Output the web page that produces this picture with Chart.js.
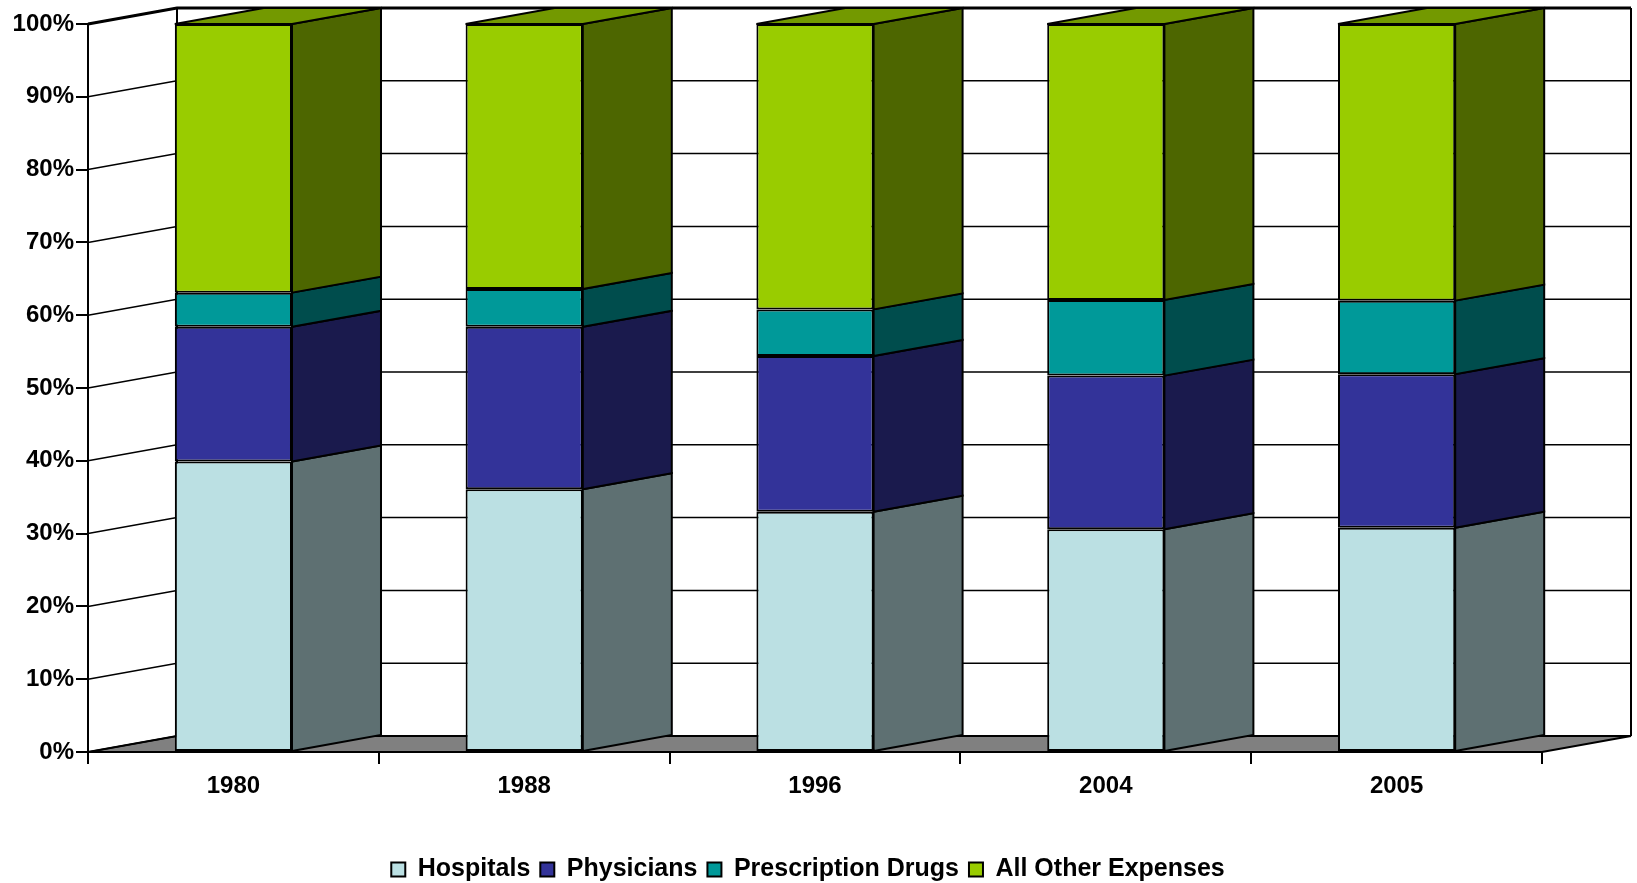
<!DOCTYPE html>
<html>
<head>
<meta charset="utf-8">
<script src="https://cdn.jsdelivr.net/npm/chart.js@4.4.1/dist/chart.umd.min.js"></script>
<style>
html, body { margin: 0; padding: 0; background: #fff; }
</style>
</head>
<body>
<canvas id="chart" width="1637" height="883"></canvas>
<script>
// shares of spending, percent of total
var years = ['1980', '1988', '1996', '2004', '2005'];
var hospitals = [39.9, 36.1, 33.0, 30.6, 30.8];
var physicians = [18.5, 22.3, 21.4, 21.1, 21.1];
var prescriptionDrugs = [4.7, 5.2, 6.4, 10.4, 10.1];
var otherExpenses = [36.9, 36.4, 39.2, 37.9, 38.0];
var yTickStep = 10;

// depth of the fake 3d box, in pixels
var DX = 89, DY = -16;

Chart.defaults.font.family = 'Liberation Sans';
Chart.defaults.font.weight = 'bold';
Chart.defaults.color = '#000';

function makeSet(label, values, front, side) {
  return {
    label: label,
    data: values,
    backgroundColor: front,
    sideColor: side,
    borderColor: '#000',
    borderWidth: 2,
    borderSkipped: false,
    barPercentage: 0.403,
    categoryPercentage: 1
  };
}

var box3d = {
  id: 'box3d',
  beforeDatasetsDraw: function(chart) {
    var ctx = chart.ctx, a = chart.chartArea, y = chart.scales.y;
    ctx.save();
    ctx.strokeStyle = '#000';
    // floor
    ctx.beginPath();
    ctx.moveTo(a.left, a.bottom);
    ctx.lineTo(a.right, a.bottom);
    ctx.lineTo(a.right + DX, a.bottom + DY);
    ctx.lineTo(a.left + DX, a.bottom + DY);
    ctx.closePath();
    ctx.fillStyle = '#808080';
    ctx.fill();
    ctx.lineWidth = 2;
    ctx.stroke();
    // side wall + back wall gridlines
    ctx.lineWidth = 1.5;
    y.ticks.forEach(function(t) {
      var py = y.getPixelForValue(t.value);
      ctx.beginPath();
      ctx.moveTo(a.left, py);
      ctx.lineTo(a.left + DX, py + DY);
      ctx.lineTo(a.right + DX, py + DY);
      ctx.stroke();
    });
    ctx.lineWidth = 2;
    ctx.beginPath();
    ctx.moveTo(a.left + DX, a.top + DY);
    ctx.lineTo(a.left + DX, a.bottom + DY);
    ctx.moveTo(a.right + DX, a.top + DY);
    ctx.lineTo(a.right + DX, a.bottom + DY);
    ctx.stroke();
    ctx.lineWidth = 3;
    ctx.beginPath();
    ctx.moveTo(a.left, a.top);
    ctx.lineTo(a.left + DX, a.top + DY);
    ctx.lineTo(a.right + DX, a.top + DY);
    ctx.stroke();
    ctx.restore();
  },
  afterDatasetsDraw: function(chart) {
    var ctx = chart.ctx;
    var last = chart.data.datasets.length - 1;
    ctx.save();
    ctx.strokeStyle = '#000';
    ctx.lineWidth = 2;
    chart.data.datasets.forEach(function(ds, i) {
      chart.getDatasetMeta(i).data.forEach(function(bar) {
        var p = bar.getProps(['x', 'y', 'base', 'width'], true);
        var x1 = p.x - p.width / 2, x2 = p.x + p.width / 2;
        var yt = Math.min(p.y, p.base), yb = Math.max(p.y, p.base);
        ctx.beginPath();
        ctx.moveTo(x2, yt);
        ctx.lineTo(x2 + DX, yt + DY);
        ctx.lineTo(x2 + DX, yb + DY);
        ctx.lineTo(x2, yb);
        ctx.closePath();
        ctx.fillStyle = ds.sideColor;
        ctx.fill();
        ctx.stroke();
        if (i === last) {
          ctx.beginPath();
          ctx.moveTo(x1, yt);
          ctx.lineTo(x2, yt);
          ctx.lineTo(x2 + DX, yt + DY);
          ctx.lineTo(x1 + DX, yt + DY);
          ctx.closePath();
          ctx.fillStyle = '#739900';
          ctx.fill();
          ctx.stroke();
        }
      });
    });
    ctx.restore();
  }
};

var chart = new Chart(document.getElementById('chart').getContext('2d'), {
  type: 'bar',
  data: {
    labels: years,
    datasets: [
      makeSet('Hospitals', hospitals, '#BBE0E3', '#5E7072'),
      makeSet('Physicians', physicians, '#333399', '#1A1A4D'),
      makeSet('Prescription Drugs', prescriptionDrugs, '#009999', '#004D4D'),
      makeSet('All Other Expenses', otherExpenses, '#99CC00', '#4D6600')
    ]
  },
  options: {
    responsive: false,
    animation: false,
    devicePixelRatio: 1,
    layout: { padding: { top: 24, right: 21, bottom: -9, left: 0 } },
    plugins: {
      legend: {
        position: 'bottom',
        labels: { boxWidth: 14, boxHeight: 14, padding: 10, font: { size: 25, weight: 'bold' } }
      },
      tooltip: { enabled: false }
    },
    scales: {
      x: {
        stacked: true,
        grid: { drawOnChartArea: false, tickLength: 12, color: '#000', lineWidth: 2 },
        border: { color: '#000', width: 2 },
        ticks: { padding: 8, font: { size: 24, weight: 'bold' } },
        afterFit: function(s) { s.height = 95; }
      },
      y: {
        stacked: true,
        min: 0,
        max: 100,
        grid: { drawOnChartArea: false, tickLength: 12, color: '#000', lineWidth: 2 },
        border: { color: '#000', width: 2 },
        ticks: {
          stepSize: yTickStep,
          padding: 2,
          font: { size: 24, weight: 'bold' },
          callback: function(v) { return v + '%'; }
        },
        afterFit: function(s) { s.width = 88; }
      },
      y2: {
        position: 'right',
        grid: { display: false },
        border: { display: false },
        ticks: { display: false },
        afterFit: function(s) { s.width = 74; }
      }
    }
  },
  plugins: [box3d]
});
</script>
</body>
</html>
